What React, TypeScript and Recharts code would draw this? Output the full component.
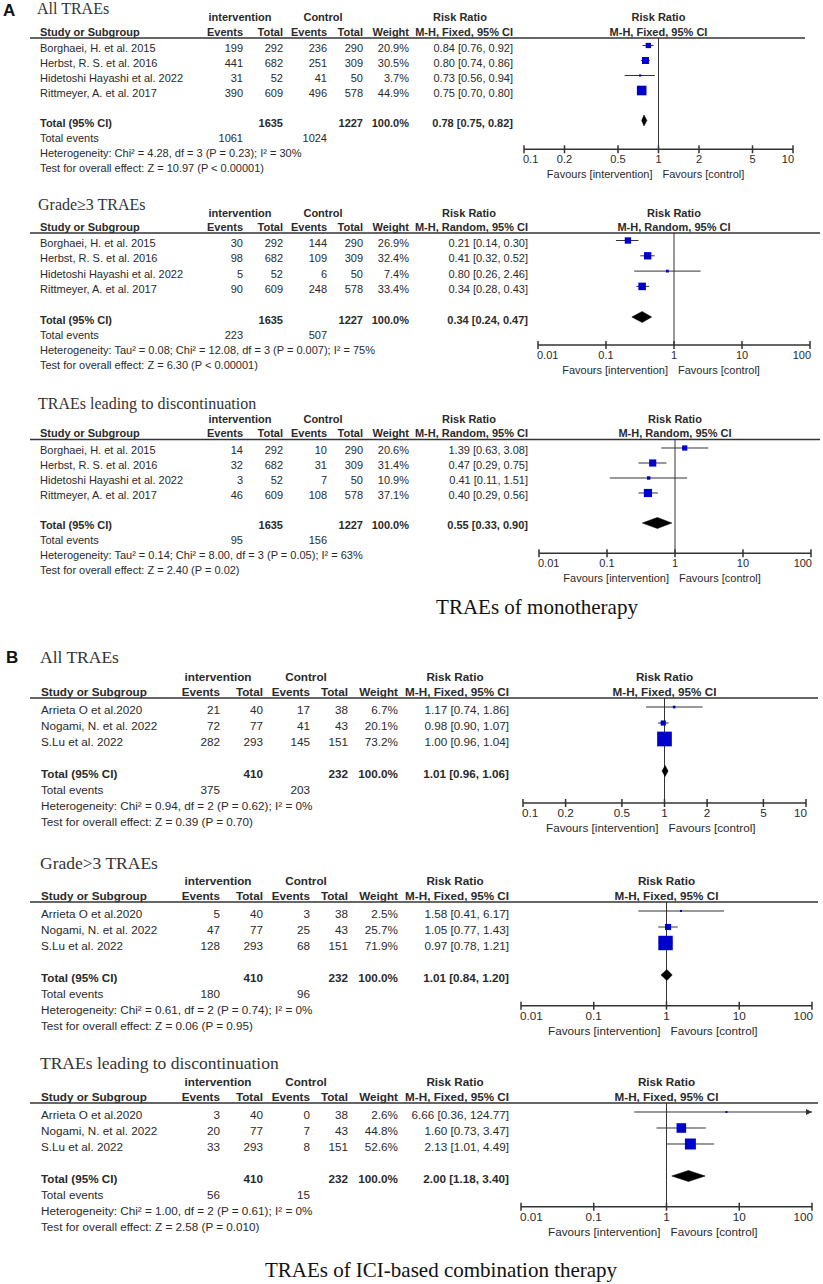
import React from 'react';
import { ComposedChart, Scatter, XAxis, YAxis, ReferenceLine } from 'recharts';

// ---------- DATA ----------
const monoStudies = ['Borghaei, H. et al. 2015', 'Herbst, R. S. et al. 2016', 'Hidetoshi Hayashi et al. 2022', 'Rittmeyer, A. et al. 2017'];
const monoIntTotal = [292, 682, 52, 609];
const monoCtrlTotal = [290, 309, 50, 578];
const monoTotals = [1635, 1227];

const comboStudies = ['Arrieta O et al.2020', 'Nogami, N. et al. 2022', 'S.Lu et al. 2022'];
const comboIntTotal = [40, 77, 293];
const comboCtrlTotal = [38, 43, 151];
const comboTotals = [410, 232];

const ticksNarrow = [0.1, 0.2, 0.5, 1, 2, 5, 10];
const ticksWide = [0.01, 0.1, 1, 10, 100];

// A1 All TRAEs
const a1IntEvents = [199, 441, 31, 390];
const a1CtrlEvents = [236, 251, 41, 496];
const a1Weight = [20.9, 30.5, 3.7, 44.9];
const a1RR = [0.84, 0.80, 0.73, 0.75];
const a1Low = [0.76, 0.74, 0.56, 0.70];
const a1High = [0.92, 0.86, 0.94, 0.80];
const a1Pooled = [0.78, 0.75, 0.82];
const a1TotalEvents = [1061, 1024];

// A2 Grade>=3
const a2IntEvents = [30, 98, 5, 90];
const a2CtrlEvents = [144, 109, 6, 248];
const a2Weight = [26.9, 32.4, 7.4, 33.4];
const a2RR = [0.21, 0.41, 0.80, 0.34];
const a2Low = [0.14, 0.32, 0.26, 0.28];
const a2High = [0.30, 0.52, 2.46, 0.43];
const a2Pooled = [0.34, 0.24, 0.47];
const a2TotalEvents = [223, 507];

// A3 discontinuation
const a3IntEvents = [14, 32, 3, 46];
const a3CtrlEvents = [10, 31, 7, 108];
const a3Weight = [20.6, 31.4, 10.9, 37.1];
const a3RR = [1.39, 0.47, 0.41, 0.40];
const a3Low = [0.63, 0.29, 0.11, 0.29];
const a3High = [3.08, 0.75, 1.51, 0.56];
const a3Pooled = [0.55, 0.33, 0.90];
const a3TotalEvents = [95, 156];

// B1 All TRAEs
const b1IntEvents = [21, 72, 282];
const b1CtrlEvents = [17, 41, 145];
const b1Weight = [6.7, 20.1, 73.2];
const b1RR = [1.17, 0.98, 1.00];
const b1Low = [0.74, 0.90, 0.96];
const b1High = [1.86, 1.07, 1.04];
const b1Pooled = [1.01, 0.96, 1.06];
const b1TotalEvents = [375, 203];

// B2 Grade>3
const b2IntEvents = [5, 47, 128];
const b2CtrlEvents = [3, 25, 68];
const b2Weight = [2.5, 25.7, 71.9];
const b2RR = [1.58, 1.05, 0.97];
const b2Low = [0.41, 0.77, 0.78];
const b2High = [6.17, 1.43, 1.21];
const b2Pooled = [1.01, 0.84, 1.20];
const b2TotalEvents = [180, 96];

// B3 discontinuation
const b3IntEvents = [3, 20, 33];
const b3CtrlEvents = [0, 7, 8];
const b3Weight = [2.6, 44.8, 52.6];
const b3RR = [6.66, 1.60, 2.13];
const b3Low = [0.36, 0.73, 1.01];
const b3High = [124.77, 3.47, 4.49];
const b3Pooled = [2.00, 1.18, 3.40];
const b3TotalEvents = [56, 15];

const titles = ['All TRAEs', 'Grade≥3 TRAEs', 'TRAEs leading to discontinuation', 'All TRAEs', 'Grade>3 TRAEs', 'TRAEs leading to discontinuation'];
const methods = ['M-H, Fixed, 95% CI', 'M-H, Random, 95% CI', 'M-H, Random, 95% CI', 'M-H, Fixed, 95% CI', 'M-H, Fixed, 95% CI', 'M-H, Fixed, 95% CI'];
const hetTexts = [
  'Heterogeneity: Chi² = 4.28, df = 3 (P = 0.23); I² = 30%',
  'Heterogeneity: Tau² = 0.08; Chi² = 12.08, df = 3 (P = 0.007); I² = 75%',
  'Heterogeneity: Tau² = 0.14; Chi² = 8.00, df = 3 (P = 0.05); I² = 63%',
  'Heterogeneity: Chi² = 0.94, df = 2 (P = 0.62); I² = 0%',
  'Heterogeneity: Chi² = 0.61, df = 2 (P = 0.74); I² = 0%',
  'Heterogeneity: Chi² = 1.00, df = 2 (P = 0.61); I² = 0%',
];
const testTexts = [
  'Test for overall effect: Z = 10.97 (P < 0.00001)',
  'Test for overall effect: Z = 6.30 (P < 0.00001)',
  'Test for overall effect: Z = 2.40 (P = 0.02)',
  'Test for overall effect: Z = 0.39 (P = 0.70)',
  'Test for overall effect: Z = 0.06 (P = 0.95)',
  'Test for overall effect: Z = 2.58 (P = 0.010)',
];
const captions = ['TRAEs of monotherapy', 'TRAEs of ICI-based combination therapy'];
const panelLetters = ['A', 'B'];

// ---------- BUILD ----------
const mk = (i: number, mono: boolean, ie: number[], ce: number[], w: number[], rr: number[], lo: number[], hi: number[], pooled: number[], tev: number[], ticks: number[]) => ({
  title: titles[i], method: methods[i], het: hetTexts[i], test: testTexts[i],
  studies: mono ? monoStudies : comboStudies,
  it: mono ? monoIntTotal : comboIntTotal,
  ct: mono ? monoCtrlTotal : comboCtrlTotal,
  totals: mono ? monoTotals : comboTotals,
  ie, ce, w, rr, lo, hi, pooled, tev, ticks,
  domain: [ticks[0], ticks[ticks.length - 1]],
});

const panels = [
  mk(0, true, a1IntEvents, a1CtrlEvents, a1Weight, a1RR, a1Low, a1High, a1Pooled, a1TotalEvents, ticksNarrow),
  mk(1, true, a2IntEvents, a2CtrlEvents, a2Weight, a2RR, a2Low, a2High, a2Pooled, a2TotalEvents, ticksWide),
  mk(2, true, a3IntEvents, a3CtrlEvents, a3Weight, a3RR, a3Low, a3High, a3Pooled, a3TotalEvents, ticksWide),
  mk(3, false, b1IntEvents, b1CtrlEvents, b1Weight, b1RR, b1Low, b1High, b1Pooled, b1TotalEvents, ticksNarrow),
  mk(4, false, b2IntEvents, b2CtrlEvents, b2Weight, b2RR, b2Low, b2High, b2Pooled, b2TotalEvents, ticksWide),
  mk(5, false, b3IntEvents, b3CtrlEvents, b3Weight, b3RR, b3Low, b3High, b3Pooled, b3TotalEvents, ticksWide),
];

// ---------- LAYOUT ----------
const COLS_A = { study: 40, ev: 243, tot: 283, cev: 327, ctot: 363, wt: 409, interC: 240, ctrlC: 323 };
const COLS_B = { study: 41, ev: 220, tot: 263, cev: 310, ctot: 348, wt: 398, interC: 218, ctrlC: 306 };
const LA = { cols: COLS_A, fs: 11, titleFs: 16, titleX: 37, markerOff: 6.5, favDy: 28.5 };
const LB = { cols: COLS_B, fs: 11.7, titleFs: 17.5, titleX: 40, markerOff: 7, favDy: 29 };
const layouts = [
  { ...LA, titleBase: 14, interBase: 21, studyBase: 36, lineY: 38, row0: 52, step: 15, axisY: 149.3, xL: 524, xR: 793, lineEnd: 805, rrRight: 513, rrHead: 460 },
  { ...LA, titleX: 38, titleBase: 210, interBase: 217, studyBase: 231, lineY: 233, row0: 247, step: 15.3, axisY: 345, xL: 538, xR: 810, lineEnd: 820, rrRight: 528, rrHead: 469 },
  { ...LA, titleX: 38, titleBase: 409, interBase: 423, studyBase: 437, lineY: 439.5, row0: 454, step: 15, axisY: 552.7, xL: 539, xR: 811, lineEnd: 820, rrRight: 528, rrHead: 469 },
  { ...LB, titleBase: 663, interBase: 680.5, studyBase: 696, lineY: 698, row0: 714, step: 16, axisY: 803, xL: 523, xR: 806, lineEnd: 818, rrRight: 509, rrHead: 455 },
  { ...LB, titleBase: 869, interBase: 885, studyBase: 900, lineY: 902, row0: 918, step: 16, axisY: 1005.7, xL: 521, xR: 812, lineEnd: 818, rrRight: 509, rrHead: 455 },
  { ...LB, titleBase: 1069, interBase: 1086, studyBase: 1101, lineY: 1103, row0: 1119, step: 16, axisY: 1206.7, xL: 521, xR: 812, lineEnd: 818, rrRight: 509, rrHead: 455 },
];

const FONT = '"Liberation Sans", Arial, sans-serif';
const SERIF = '"Liberation Serif", "Times New Roman", serif';
const TXT = '#2a2a2a';
const LINE = '#333';

const fmtRR = (v: number, lo: number, hi: number) => `${v.toFixed(2)} [${lo.toFixed(2)}, ${hi.toFixed(2)}]`;

function PanelText({ p, L }: any) {
  const c = L.cols;
  const base = (r: number) => L.row0 + r * L.step;
  const n = p.studies.length;
  const T = { fontFamily: FONT, fontSize: L.fs, fill: TXT } as any;
  const B = { ...T, fontWeight: 700 };
  const plotC = (L.xL + L.xR) / 2;
  const tr = n + 1;
  return (
    <g>
      <text x={L.titleX} y={L.titleBase} fontFamily={SERIF} fontSize={L.titleFs} fill="#333">{p.title}</text>
      <text {...B} x={c.interC} y={L.interBase} textAnchor="middle">intervention</text>
      <text {...B} x={c.ctrlC} y={L.interBase} textAnchor="middle">Control</text>
      <text {...B} x={L.rrHead} y={L.interBase} textAnchor="middle">Risk Ratio</text>
      <text {...B} x={plotC} y={L.interBase} textAnchor="middle">Risk Ratio</text>
      <text {...B} x={c.study} y={L.studyBase}>Study or Subgroup</text>
      <text {...B} x={c.ev} y={L.studyBase} textAnchor="end">Events</text>
      <text {...B} x={c.tot} y={L.studyBase} textAnchor="end">Total</text>
      <text {...B} x={c.cev} y={L.studyBase} textAnchor="end">Events</text>
      <text {...B} x={c.ctot} y={L.studyBase} textAnchor="end">Total</text>
      <text {...B} x={c.wt} y={L.studyBase} textAnchor="end">Weight</text>
      <text {...B} x={L.rrRight} y={L.studyBase} textAnchor="end">{p.method}</text>
      <text {...B} x={plotC} y={L.studyBase} textAnchor="middle">{p.method}</text>
      <line x1={30} x2={L.lineEnd} y1={L.lineY} y2={L.lineY} stroke={LINE} strokeWidth={1.6} />
      {p.studies.map((s: string, i: number) => (
        <g key={i}>
          <text {...T} x={c.study} y={base(i)}>{s}</text>
          <text {...T} x={c.ev} y={base(i)} textAnchor="end">{p.ie[i]}</text>
          <text {...T} x={c.tot} y={base(i)} textAnchor="end">{p.it[i]}</text>
          <text {...T} x={c.cev} y={base(i)} textAnchor="end">{p.ce[i]}</text>
          <text {...T} x={c.ctot} y={base(i)} textAnchor="end">{p.ct[i]}</text>
          <text {...T} x={c.wt} y={base(i)} textAnchor="end">{p.w[i].toFixed(1)}%</text>
          <text {...T} x={L.rrRight} y={base(i)} textAnchor="end">{fmtRR(p.rr[i], p.lo[i], p.hi[i])}</text>
        </g>
      ))}
      <text {...B} x={c.study} y={base(tr)}>Total (95% CI)</text>
      <text {...B} x={c.tot} y={base(tr)} textAnchor="end">{p.totals[0]}</text>
      <text {...B} x={c.ctot} y={base(tr)} textAnchor="end">{p.totals[1]}</text>
      <text {...B} x={c.wt} y={base(tr)} textAnchor="end">100.0%</text>
      <text {...B} x={L.rrRight} y={base(tr)} textAnchor="end">{fmtRR(p.pooled[0], p.pooled[1], p.pooled[2])}</text>
      <text {...T} x={c.study} y={base(tr + 1)}>Total events</text>
      <text {...T} x={c.ev} y={base(tr + 1)} textAnchor="end">{p.tev[0]}</text>
      <text {...T} x={c.cev} y={base(tr + 1)} textAnchor="end">{p.tev[1]}</text>
      <text {...T} x={c.study} y={base(tr + 2)}>{p.het}</text>
      <text {...T} x={c.study} y={base(tr + 3)}>{p.test}</text>
    </g>
  );
}

const Square = (props: any) => {
  const { cx, cy, payload } = props;
  if (cx == null || cy == null) return <g />;
  const s = Math.max(2, 1.5 + 0.18 * payload.w);
  return <rect x={cx - s / 2} y={cy - s / 2} width={s} height={s} fill="#0000cc" />;
};
const Arrow = (props: any) => {
  const { cx, cy } = props;
  if (cx == null || cy == null) return <g />;
  return <polygon points={`${cx},${cy} ${cx - 6},${cy - 3} ${cx - 6},${cy + 3}`} fill={LINE} />;
};
const Empty = () => <g />;
const DiamondPoly = (props: any) => {
  const pts = props.points || [];
  if (!pts.length) return <g />;
  return <polygon points={pts.map((q: any) => `${q.x},${q.y}`).join(' ')} fill="#000" stroke="#000" strokeWidth={0.5} />;
};

function Forest({ p, L }: any) {
  const mL = 30, mR = 30, axisH = 44;
  const width = L.xR - L.xL + mL + mR;
  const height = L.axisY - L.lineY + axisH;
  const c0 = L.row0 - L.markerOff;
  const yTop = (L.lineY - c0) / L.step;
  const yBot = (L.axisY - c0) / L.step;
  const n = p.rr.length;
  const tr = n + 1;
  const h = 5.5 / L.step;
  const pts = p.rr.map((v: number, i: number) => ({ x: v, y: i, w: p.w[i] }));
  const dia = [
    { x: p.pooled[1], y: tr }, { x: p.pooled[0], y: tr - h }, { x: p.pooled[2], y: tr }, { x: p.pooled[0], y: tr + h },
  ];
  const over = p.hi.map((v: number, i: number) => ({ x: p.domain[1], y: i, o: v > p.domain[1] })).filter((q: any) => q.o);
  const nt = p.ticks.length;
  const tick = (tp: any) => {
    const { x, y, payload, index } = tp;
    const v = payload.value;
    const anchor = index === 0 ? 'start' : index === nt - 1 ? 'end' : 'middle';
    const tx = index === 0 ? x - 1 : index === nt - 1 ? x + 1 : x;
    const st = { fontFamily: FONT, fontSize: L.fs, fill: TXT } as any;
    return (
      <g>
        <line x1={x} x2={x} y1={y - 4} y2={y + 4} stroke={LINE} strokeWidth={1.5} />
        <text {...st} x={tx} y={y + 14} textAnchor={anchor}>{String(v)}</text>
        {v === 1 && (
          <>
            <text {...st} x={x - 6} y={y + L.favDy} textAnchor="end">Favours [intervention]</text>
            <text {...st} x={x + 4} y={y + L.favDy} textAnchor="start">Favours [control]</text>
          </>
        )}
      </g>
    );
  };
  return (
    <div style={{ position: 'absolute', left: L.xL - mL, top: L.lineY, width, height }}>
      <ComposedChart width={width} height={height} margin={{ top: 0, right: mR, bottom: 0, left: mL }}>
        <XAxis type="number" dataKey="x" scale="log" domain={p.domain} ticks={p.ticks} allowDataOverflow height={axisH}
          interval={0} tickSize={0} tickMargin={0} tickLine={false} axisLine={{ stroke: LINE, strokeWidth: 1.5 }} tick={tick} />
        <YAxis type="number" dataKey="y" domain={[yTop, yBot]} reversed hide allowDataOverflow />
        <ReferenceLine x={1} stroke={LINE} strokeWidth={1} />
        {p.rr.map((_: number, i: number) => (
          <ReferenceLine key={i} segment={[{ x: p.lo[i], y: i }, { x: Math.min(p.hi[i], p.domain[1]), y: i }]} stroke={LINE} strokeWidth={1} />
        ))}
        <Scatter data={pts} shape={Square} isAnimationActive={false} />
        {over.length > 0 && <Scatter data={over} shape={Arrow} isAnimationActive={false} />}
        <Scatter data={dia} shape={Empty} line={DiamondPoly} lineType="joint" isAnimationActive={false} />
      </ComposedChart>
    </div>
  );
}

export default function App() {
  return (
    <div style={{ position: 'absolute', left: 0, top: 0, width: 823, height: 1284, background: '#fff', overflow: 'hidden' }}>
      <svg width={823} height={1284} style={{ position: 'absolute', left: 0, top: 0 }}>
        <text x={3} y={16} fontFamily={FONT} fontWeight={700} fontSize={17} fill="#111">{panelLetters[0]}</text>
        <text x={6} y={663} fontFamily={FONT} fontWeight={700} fontSize={17} fill="#111">{panelLetters[1]}</text>
        {panels.map((p, i) => <PanelText key={i} p={p} L={layouts[i]} />)}
        <text x={537} y={614} textAnchor="middle" fontFamily={SERIF} fontSize={21} fill="#111">{captions[0]}</text>
        <text x={441} y={1277} textAnchor="middle" fontFamily={SERIF} fontSize={21} fill="#111">{captions[1]}</text>
      </svg>
      {panels.map((p, i) => <Forest key={i} p={p} L={layouts[i]} />)}
    </div>
  );
}
